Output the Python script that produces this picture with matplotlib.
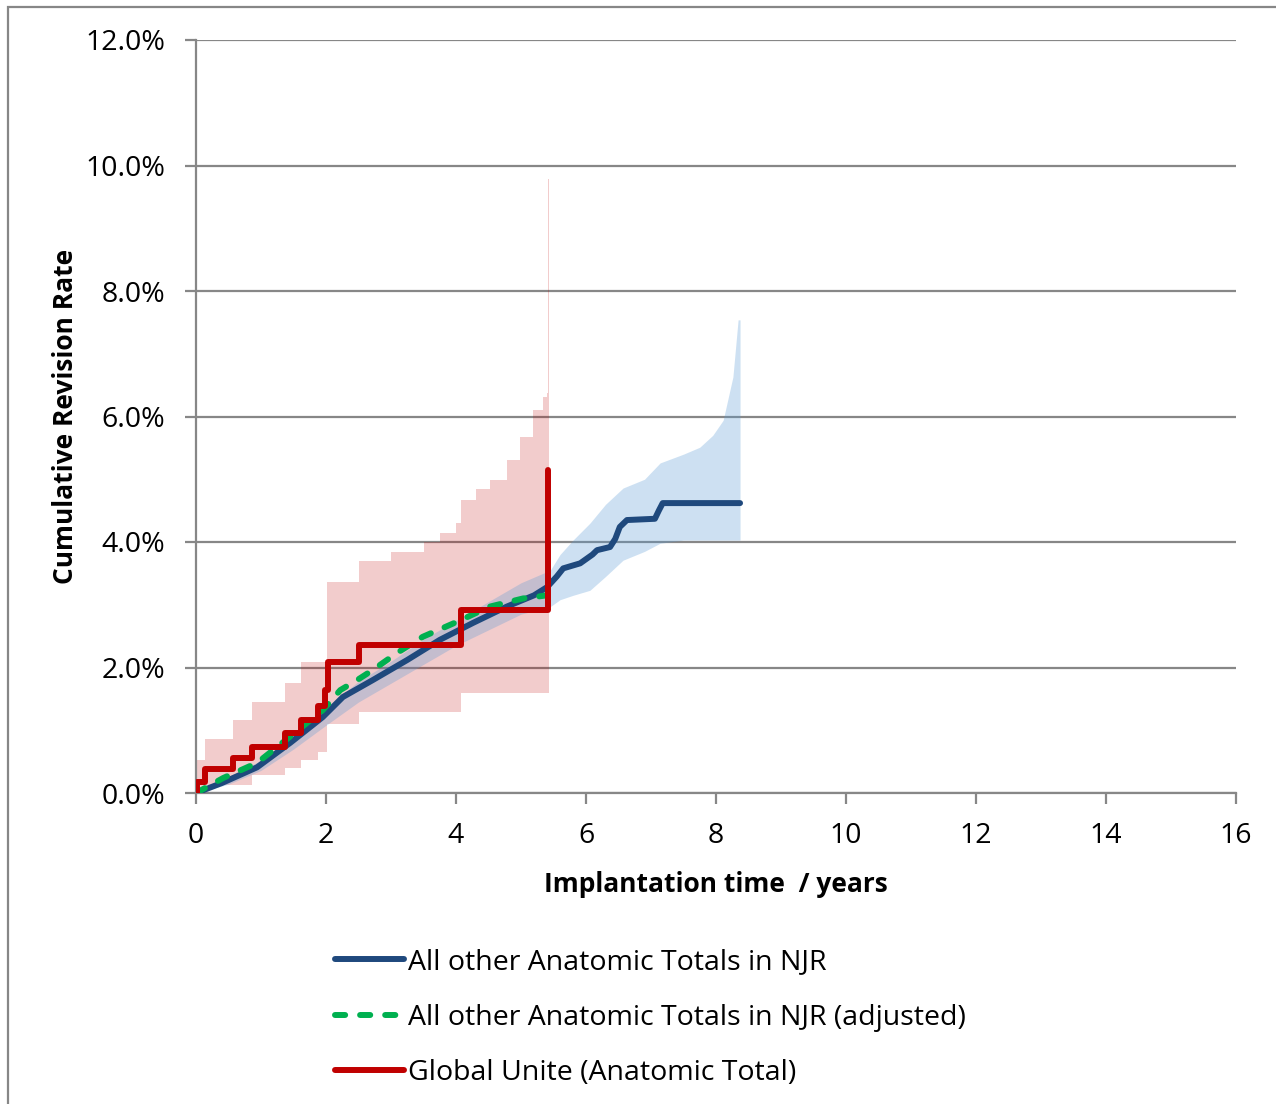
import matplotlib
matplotlib.use('Agg')
import matplotlib.pyplot as plt
import matplotlib.patches as patches
from matplotlib.ticker import FuncFormatter

plt.rcParams['font.family'] = ['Open Sans', 'DejaVu Sans']

# All other Anatomic Totals in NJR (years, cumulative revision %)
njr_t = [0, 0.4, 0.94, 1.45, 1.95, 2.26, 2.72, 3.25, 3.75, 4.26, 4.78, 5.2, 5.4,
         5.55, 5.65, 5.91, 6.1, 6.17, 6.37, 6.45, 6.52, 6.63, 7.06, 7.12, 7.18, 8.37]
njr_rate = [0, 0.16, 0.41, 0.8, 1.21, 1.53, 1.8, 2.12, 2.44, 2.71, 2.97, 3.15, 3.28,
            3.45, 3.58, 3.66, 3.8, 3.87, 3.92, 4.05, 4.24, 4.35, 4.37, 4.5, 4.62, 4.62]

# NJR confidence band
njr_ci_t = [0, 0.5, 1.0, 1.5, 2.0, 2.5, 3.0, 3.5, 4.0, 4.5, 5.0, 5.45, 5.6, 5.8,
            6.06, 6.3, 6.57, 6.9, 7.14, 7.5, 7.75, 7.95, 8.11, 8.26, 8.34, 8.37]
njr_lo = [0, 0.14, 0.36, 0.7, 1.08, 1.45, 1.75, 2.05, 2.35, 2.6, 2.85, 2.97, 3.08, 3.15,
          3.23, 3.45, 3.71, 3.85, 3.98, 4.03, 4.03, 4.03, 4.03, 4.03, 4.03, 4.03]
njr_hi = [0.02, 0.26, 0.52, 0.92, 1.36, 1.78, 2.1, 2.45, 2.75, 3.05, 3.35, 3.55, 3.8, 4.03,
          4.3, 4.6, 4.86, 5.0, 5.26, 5.4, 5.51, 5.7, 5.94, 6.63, 7.54, 7.54]

# All other Anatomic Totals in NJR (adjusted)
adj_t = [0, 0.42, 0.94, 1.45, 1.95, 2.22, 2.48, 2.72, 3.09, 3.49, 4.02, 4.52, 5.03, 5.4]
adj_rate = [0, 0.24, 0.48, 0.9, 1.32, 1.64, 1.8, 1.96, 2.23, 2.49, 2.73, 2.97, 3.1, 3.15]

# Global Unite (Anatomic Total) - step function
gu_t = [0, 0.02, 0.14, 0.57, 0.86, 1.37, 1.61, 1.88, 1.98, 2.03, 2.5, 4.08, 5.42]
gu_rate = [0, 0.18, 0.39, 0.56, 0.74, 0.95, 1.16, 1.39, 1.64, 2.09, 2.36, 2.92, 5.15]

# Global Unite confidence band (step)
gu_ci_t = [0, 0.14, 0.57, 0.86, 1.37, 1.61, 1.88, 2.02, 2.5, 3.0, 3.5, 3.75, 4.0, 4.08,
           4.3, 4.52, 4.78, 4.98, 5.18, 5.34, 5.4, 5.415, 5.43]
gu_lo = [0, 0.12, 0.12, 0.29, 0.40, 0.53, 0.66, 1.1, 1.29, 1.29, 1.29, 1.29, 1.29, 1.59,
         1.59, 1.59, 1.59, 1.59, 1.59, 1.59, 1.59, 1.59, 1.59]
gu_hi = [0.53, 0.86, 1.16, 1.45, 1.75, 2.08, 2.08, 3.37, 3.7, 3.84, 4.0, 4.14, 4.3, 4.67,
         4.85, 4.99, 5.31, 5.67, 6.1, 6.31, 6.37, 9.78, 9.78]

x_ticks = [0, 2, 4, 6, 8, 10, 12, 14, 16]
y_ticks = [0, 2, 4, 6, 8, 10, 12]

grid_col = '#878787'
fs = 20.5

fig = plt.figure(figsize=(12.76, 11.04), dpi=100)
ax = fig.add_axes([196 / 1276, 1 - 793 / 1104, 1040 / 1276, 753 / 1104])

ax.fill_between(gu_ci_t, gu_lo, gu_hi, step='post', color='#C00000', alpha=0.2, lw=0, zorder=1)
ax.fill_between(njr_ci_t, njr_lo, njr_hi, color='#5B9BD5', alpha=0.3, lw=0, zorder=2)

ax.plot(njr_t, njr_rate, color='#1F497D', lw=4.3, solid_capstyle='round', zorder=4,
        label='All other Anatomic Totals in NJR')
ax.plot(adj_t, adj_rate, color='#00B050', lw=4.3, ls=(0, (1.7, 2.5)), dash_capstyle='round',
        zorder=5, label='All other Anatomic Totals in NJR (adjusted)')
ax.plot(gu_t, gu_rate, color='#C00000', lw=4.3, drawstyle='steps-post', solid_capstyle='round',
        zorder=6, label='Global Unite (Anatomic Total)')

ax.set_xlim(0, 16)
ax.set_ylim(0, 12)
ax.set_xticks(x_ticks)
ax.set_yticks(y_ticks)
ax.yaxis.set_major_formatter(FuncFormatter(lambda v, p: f'{v:.1f}%'))

ax.grid(axis='y', color=grid_col, lw=1.6, zorder=0)
ax.set_axisbelow(True)
for s in ['top', 'right']:
    ax.spines[s].set_visible(False)
for s in ['left', 'bottom']:
    ax.spines[s].set_color(grid_col)
    ax.spines[s].set_linewidth(1.6)
ax.tick_params(axis='both', colors=grid_col, width=1.6, length=8, labelcolor='black',
               labelsize=fs)
ax.tick_params(axis='y', pad=14)
ax.tick_params(axis='x', pad=13)

ax.set_xlabel('Implantation time  / years', fontsize=19, fontweight='bold', labelpad=15)
ax.set_ylabel('Cumulative Revision Rate', fontsize=19, fontweight='bold', labelpad=5)

leg = ax.legend(loc='upper left', bbox_to_anchor=(321 / 1276, 1 - 934 / 1104),
                bbox_transform=fig.transFigure, frameon=False, fontsize=fs,
                handlelength=2.4, handletextpad=0.15, labelspacing=0.96, borderpad=0)

# outer chart border
fig.patches.append(patches.Rectangle((8 / 1276, -0.05), 1.2, 1 - 7 / 1104 + 0.05,
                                     transform=fig.transFigure, fill=False,
                                     edgecolor=grid_col, lw=1.6))

plt.savefig('out.png', dpi=100)
